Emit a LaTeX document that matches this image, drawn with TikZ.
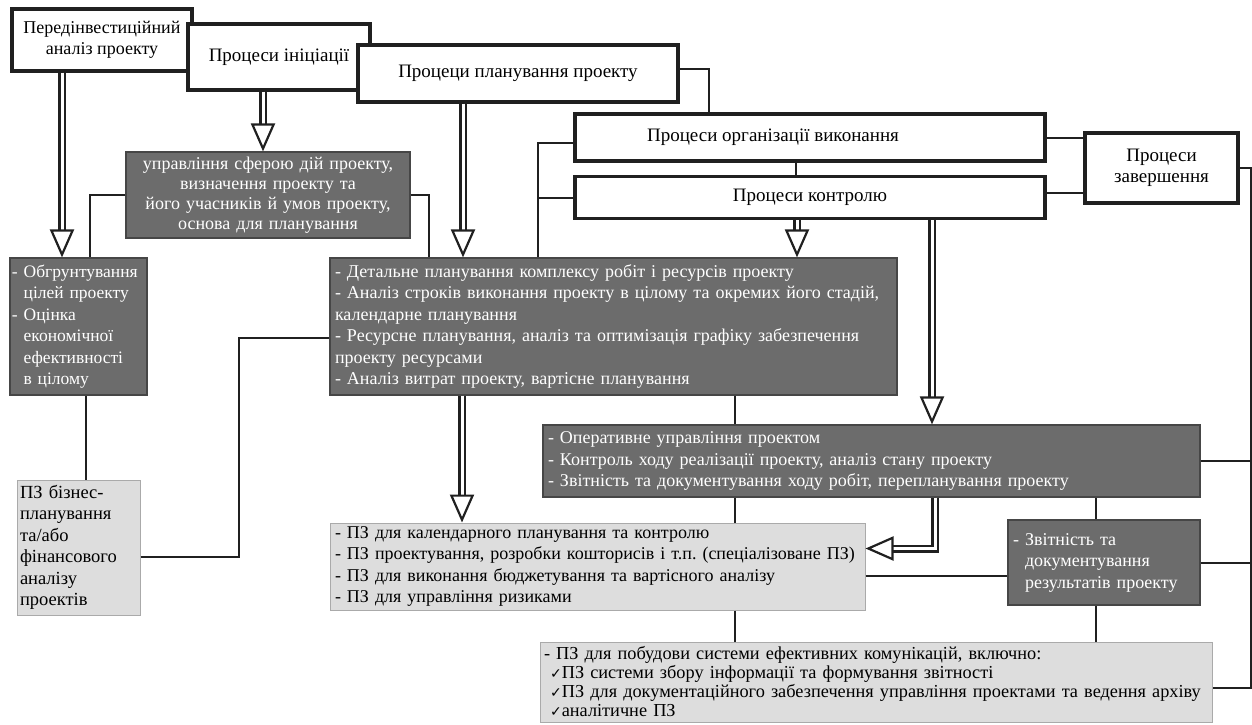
\documentclass[tikz,border=0pt]{standalone}
\usepackage{fontspec}
\setmainfont{Liberation Serif}
\newfontfamily\checkfont{DejaVu Sans}
\usetikzlibrary{arrows.meta,calc}
\definecolor{boxDark}{RGB}{108,108,108}
\definecolor{boxDarkLine}{RGB}{70,70,70}
\definecolor{boxLight}{RGB}{221,221,221}
\definecolor{boxLightLine}{RGB}{170,170,170}
\definecolor{inkDark}{RGB}{32,32,32}
\newcommand{\chk}{{\checkfont\fontsize{14}{19}\selectfont ✓}}
\frenchspacing

\begin{document}
\begin{tikzpicture}[x=1pt,y=-1pt,
    proc/.style={draw=inkDark,line width=3.2pt,fill=white,align=center,font=\fontsize{19}{21}\selectfont,inner sep=2pt},
    dark/.style={draw=boxDarkLine,line width=1.2pt,fill=boxDark,text=white,font=\fontsize{18}{21.5}\selectfont,inner xsep=5pt,inner ysep=3pt},
    light/.style={draw=boxLightLine,line width=1pt,fill=boxLight,text=black,font=\fontsize{18}{21.5}\selectfont,inner xsep=5pt,inner ysep=3pt},
    link/.style={draw=inkDark,line width=2pt},
    dblarr/.style={draw=inkDark,double=white,double distance=3pt,line width=2.5pt,-{Triangle[open,length=28pt,width=24pt,line width=2.2pt]}}
  ]
  \useasboundingbox (0,0) rectangle (1252,724);

  % process boxes along the top
  \node[proc,minimum width=180,minimum height=62,font=\fontsize{18}{21}\selectfont] (pre) at (102,40) {Передінвестиційний\\аналіз проекту};
  \node[proc,minimum width=182,minimum height=66] (init) at (279,57) {Процеси ініціації};
  \node[proc,minimum width=320,minimum height=57] (plan) at (518,73.5) {Процеци планування проекту};
  \node[proc,minimum width=470,minimum height=47] (org) at (810,137.5) {\hspace*{-74pt}Процеси організації виконання};
  \node[proc,minimum width=470,minimum height=42] (ctrl) at (810,197.5) {Процеси контролю};
  \node[proc,minimum width=153,minimum height=70] (fin) at (1161.5,168) {Процеси\\завершення};

  % tasks
  \node[dark,minimum width=284,minimum height=86,text width=274,align=center,font=\fontsize{18}{20}\selectfont] (scope) at (268,195)
    {управління сферою дій проекту,\\визначення проекту та\\його учасників й умов проекту,\\основа для планування};
  \node[dark,minimum width=137,minimum height=137,text width=133,inner xsep=2pt,align=left,font=\fontsize{17.5}{21.5}\selectfont] (goal) at (78.5,326.5)
    {- Обгрунтування\\\phantom{- }цілей проекту\\- Оцінка\\\phantom{- }економічної\\\phantom{- }ефективності\\\phantom{- }в цілому};
  \node[dark,minimum width=567,minimum height=137,text width=557,align=left] (detail) at (613.5,326.5)
    {- Детальне планування комплексу робіт і ресурсів проекту\\
     - Аналіз строків виконання проекту в цілому та окремих його стадій,\\
     календарне планування\\
     - Ресурсне планування, аналіз та оптимізація графіку забезпечення\\
     проекту ресурсами\\
     - Аналіз витрат проекту, вартісне планування};
  \node[dark,minimum width=657,minimum height=72,text width=647,align=left] (oper) at (871.5,461)
    {- Оперативне управління проектом\\
     - Контроль ходу реалізації проекту, аналіз стану проекту\\
     - Звітність та документування ходу робіт, перепланування проекту};
  \node[dark,minimum width=192,minimum height=85,text width=182,align=left] (report) at (1104,562.5)
    {- Звітність та\\\phantom{- }документування\\\phantom{- }результатів проекту};

  % software
  \node[light,minimum width=123,minimum height=135,text width=117,inner xsep=3pt,align=left,font=\fontsize{18.5}{21.5}\selectfont] (biz) at (78.5,547.5)
    {ПЗ бізнес-\\планування\\та/або\\фінансового\\аналізу\\проектів};
  \node[light,minimum width=535,minimum height=87,text width=525,align=left] (soft) at (597.5,566.5)
    {- ПЗ для календарного планування та контролю\\
     - ПЗ проектування, розробки кошторисів і т.п. (спеціалізоване ПЗ)\\
     - ПЗ для виконання бюджетування та вартісного аналізу\\
     - ПЗ для управління ризиками};
  \node[light,minimum width=672,minimum height=80,text width=664,inner xsep=4pt,align=left,font=\fontsize{18.3}{19}\selectfont] (comm) at (876,682)
    {- ПЗ для побудови системи ефективних комунікацій, включно:\\
     \phantom{-}\chk ПЗ системи збору інформації та формування звітності\\
     \phantom{-}\chk ПЗ для документаційного забезпечення управління проектами та ведення архіву\\
     \phantom{-}\chk аналітичне ПЗ};

  % plain links
  \draw[link] ([yshift=5]plan.east) -| ([xshift=29]plan.east |- org.north);
  \draw[link] ([xshift=-14]org.south) -- ([xshift=-14]ctrl.north);
  \draw[link] (org.east) -- (org.east -| fin.west);
  \draw[link] ([yshift=5]ctrl.east) -- ([yshift=5]ctrl.east -| fin.west);
  \draw[link] (fin.east) -- ++(11,0) coordinate (rt) |- ([yshift=-6]comm.east);
  \draw[link] (oper.east) -- (oper.east -| rt);
  \draw[link] (report.east) -- (report.east -| rt);
  \draw[link] ([yshift=-5]org.west) -| ([xshift=-35]ctrl.west |- detail.north);
  \draw[link] (ctrl.west) -- ++(-35,0);
  \draw[link] (scope.west) -| ([xshift=11.5]goal.north);
  \draw[link] (scope.east) -| ([xshift=100]detail.north west);
  \draw[link] ([xshift=7]goal.south) -- ([xshift=7]goal.south |- biz.north);
  \draw[link] ([yshift=-9.5]biz.east) -- ++(98,0) |- ([yshift=-11]detail.west);
  \draw[link] ([xshift=121.5]detail.south) -- ([xshift=121.5]detail.south |- oper.north);
  \draw[link] ([xshift=137.5]soft.north) -- ([xshift=137.5]soft.north |- oper.south);
  \draw[link] ([xshift=-8]report.north) -- ([xshift=-8]report.north |- oper.south);
  \draw[link] ([xshift=137.5]soft.south) -- ([xshift=137.5]soft.south |- comm.north);
  \draw[link] ([xshift=-8]report.south) -- ([xshift=-8]report.south |- comm.north);
  \draw[link] ([yshift=-9]soft.east) -- ([yshift=-9]soft.east -| report.west);

  % hollow arrows
  \draw[dblarr] ([xshift=-40]pre.south) -- ([xshift=-40]pre.south |- goal.north);
  \draw[dblarr] ([xshift=-16]init.south) -- ([xshift=-16]init.south |- scope.north);
  \draw[dblarr] ([xshift=-55]plan.south) -- ([xshift=-55]plan.south |- detail.north);
  \draw[dblarr] ([xshift=-13]ctrl.south) -- ([xshift=-13]ctrl.south |- detail.north);
  \draw[dblarr] ([xshift=122]ctrl.south) -- ([xshift=122]ctrl.south |- oper.north);
  \draw[dblarr] ([xshift=-151.5]detail.south) -- ([xshift=-151.5]detail.south |- soft.north);
  \draw[dblarr] ([xshift=63.5]oper.south) |- ([yshift=18]soft.east);
\end{tikzpicture}
\end{document}
